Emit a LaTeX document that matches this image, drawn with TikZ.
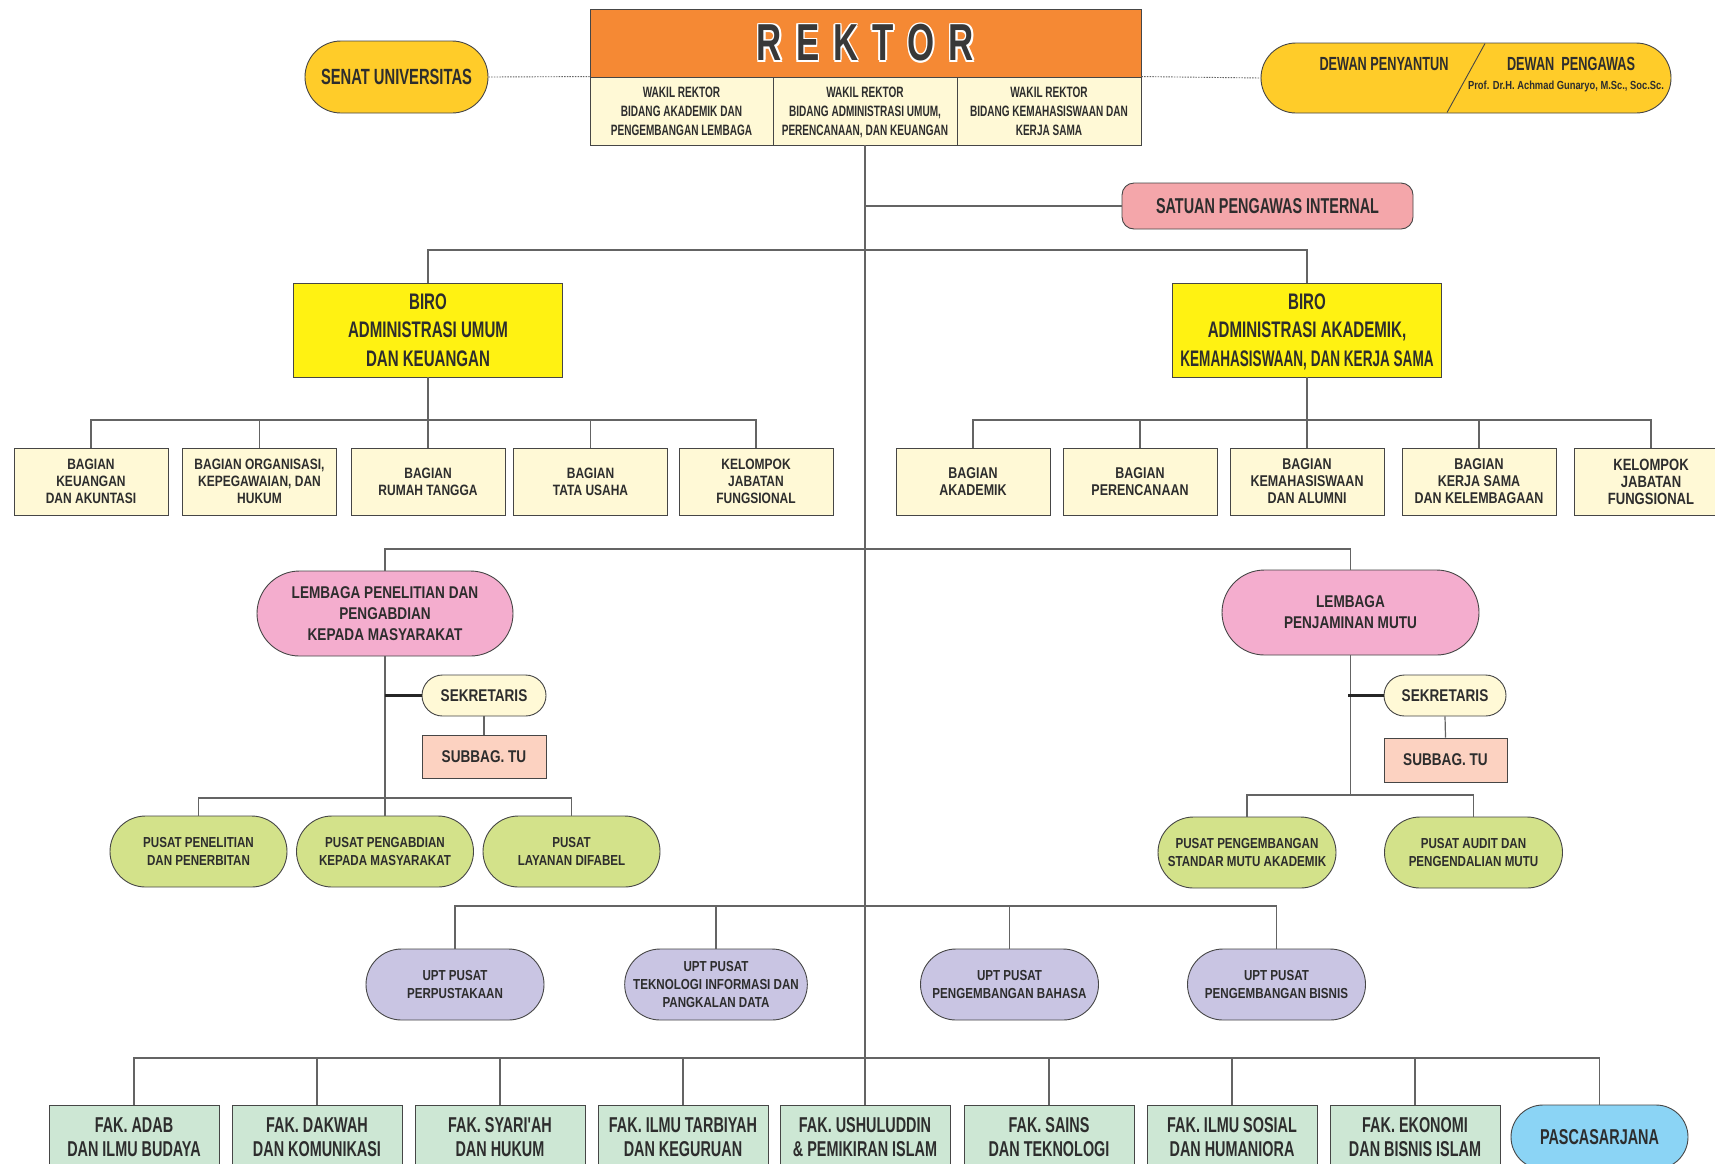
\documentclass[tikz,border=0pt]{standalone}
\usepackage{fontspec}
\usepackage{graphicx}
\usetikzlibrary{shapes.misc,calc}
\newfontfamily\fA{Liberation Sans}[FakeStretch=0.67]
\newfontfamily\fB{Liberation Sans}[FakeStretch=0.8]
\newcommand\fsz[2]{\fontsize{#1}{#2}\selectfont}
\newcommand\rkword{R\kern14pt E\kern14pt K\kern14pt T\kern14pt O\kern14pt R}
\definecolor{orng}{RGB}{245,137,52}
\definecolor{cream}{RGB}{255,249,214}
\definecolor{senatc}{RGB}{255,204,41}
\definecolor{spic}{RGB}{244,166,170}
\definecolor{biroc}{RGB}{255,242,18}
\definecolor{lemc}{RGB}{244,173,206}
\definecolor{subc}{RGB}{252,210,193}
\definecolor{pusc}{RGB}{211,226,138}
\definecolor{uptc}{RGB}{201,197,227}
\definecolor{fakc}{RGB}{205,231,212}
\definecolor{pasc}{RGB}{139,212,245}
\definecolor{tx}{RGB}{45,45,45}
\definecolor{bd}{RGB}{70,70,70}
\definecolor{ln}{RGB}{100,100,100}
\begin{document}
\begin{tikzpicture}[x=1pt,y=-1pt,
  box/.style={draw=bd, line width=0.9pt, align=center, text=tx, inner sep=0pt, rectangle, text depth=0pt},
  pill/.style={box, rounded rectangle},
  conn/.style={draw=ln, line width=1.2pt},
  sekline/.style={draw=black!85, line width=2.2pt},
  dotline/.style={draw=ln, line width=0.9pt, dash pattern=on 1.5pt off 1.2pt},
  rk/.style={font=\fA\bfseries\fsz{52}{60}, inner sep=0pt},
  wk/.style={font=\fA\bfseries\fsz{15}{19}},
  big/.style={font=\fA\bfseries\fsz{22.5}{28.4}},
  bgl/.style={font=\fB\bfseries\fsz{15}{17}},
  bgr/.style={font=\fB\bfseries\fsz{15.6}{17}},
  lem/.style={font=\fB\bfseries\fsz{17}{21}},
  sek/.style={font=\fB\bfseries\fsz{17}{20}},
  pus/.style={font=\fB\bfseries\fsz{14.5}{18}},
  fak/.style={font=\fA\bfseries\fsz{21.5}{24}},
  bagbox/.style={box, bgl, fill=cream, minimum width=154pt, minimum height=67pt},
  pusbox/.style={pill, pus, fill=pusc, minimum width=177pt, minimum height=71pt},
  uptbox/.style={pill, pus, fill=uptc, minimum width=178pt, minimum height=71pt},
  fakbox/.style={box, fak, fill=fakc, minimum width=170pt, minimum height=64pt},
]
\useasboundingbox (0,0) rectangle (1715,1163);
\clip (0,0) rectangle (1715,1163);
\fill[white] (0,0) rectangle (1715,1163);

% ---------- top ----------
\node[box, fill=orng, minimum width=551pt, minimum height=68pt] (rektor) at (865.5,43) {};
\foreach \dx/\dy [count=\i] in {1.6/0,-1.6/0,0/1.6,0/-1.6,1.15/1.15,-1.15/1.15,1.15/-1.15,-1.15/-1.15}
  \node[rk, text=white] (rkhalo\i) at ($(rektor.center)+(\dx,\dy)$) {\rkword};
\node[rk, text=tx!95] (rktext) at (rektor.center) {\rkword};

\node[box, wk, fill=cream, minimum width=183pt, minimum height=68pt] (w1) at (681.5,111)
  {WAKIL REKTOR\\BIDANG AKADEMIK DAN\\PENGEMBANGAN LEMBAGA};
\node[box, wk, fill=cream, minimum width=184pt, minimum height=68pt] (w2) at (865,111)
  {WAKIL REKTOR\\BIDANG ADMINISTRASI UMUM,\\PERENCANAAN, DAN KEUANGAN};
\node[box, wk, fill=cream, minimum width=184pt, minimum height=68pt] (w3) at (1049,111)
  {WAKIL REKTOR\\BIDANG KEMAHASISWAAN DAN\\KERJA SAMA};

\node[pill, fill=senatc, font=\fA\bfseries\fsz{22}{26}, minimum width=183pt, minimum height=72pt] (senat) at (396.5,77) {SENAT UNIVERSITAS};
\node[pill, fill=senatc, minimum width=410pt, minimum height=70pt] (dewan) at (1466,78) {};
\draw[draw=bd, line width=0.9pt] (1485,43.5) -- (1447,112.5);
\node[font=\fA\bfseries\fsz{19}{22}, text=tx] (dpy) at (1384,64) {DEWAN PENYANTUN};
\node[font=\fA\bfseries\fsz{19}{22}, text=tx] (dpg) at (1571,64) {DEWAN\ \ PENGAWAS};
\node[font=\fB\bfseries\fsz{11.7}{14}, text=tx] (prof) at (1566,86) {Prof. Dr.H. Achmad Gunaryo, M.Sc., Soc.Sc.};

\draw[dotline] (senat.east) -- (w1.north west);
\draw[dotline] (w3.north east) -- (dewan.west);

\node[box, fill=spic, rounded corners=12pt, font=\fA\bfseries\fsz{21.5}{24}, minimum width=291pt, minimum height=46pt] (spi) at (1267.5,206) {SATUAN PENGAWAS INTERNAL};

% ---------- biro ----------
\node[box, big, fill=biroc, minimum width=269pt, minimum height=94pt] (b1) at (428,330)
  {BIRO\\ADMINISTRASI UMUM\\DAN KEUANGAN};
\node[box, big, fill=biroc, minimum width=269pt, minimum height=94pt] (b2) at (1307,330)
  {BIRO\\ADMINISTRASI AKADEMIK,\\\scalebox{0.9}[1]{KEMAHASISWAAN, DAN KERJA SAMA}};

\node[bagbox] (l1) at (91,481.5) {BAGIAN\\KEUANGAN\\DAN AKUNTASI};
\node[bagbox] (l2) at (259.5,481.5) {BAGIAN ORGANISASI,\\KEPEGAWAIAN, DAN\\HUKUM};
\node[bagbox] (l3) at (428,481.5) {BAGIAN\\RUMAH TANGGA};
\node[bagbox] (l4) at (590.5,481.5) {BAGIAN\\TATA USAHA};
\node[bagbox] (l5) at (756,481.5) {KELOMPOK\\JABATAN\\FUNGSIONAL};

\node[bagbox, bgr] (r1) at (973,481.5) {BAGIAN\\AKADEMIK};
\node[bagbox, bgr] (r2) at (1140,481.5) {BAGIAN\\PERENCANAAN};
\node[bagbox, bgr] (r3) at (1307,481.5) {BAGIAN\\KEMAHASISWAAN\\DAN ALUMNI};
\node[bagbox, bgr] (r4) at (1479,481.5) {BAGIAN\\KERJA SAMA\\DAN KELEMBAGAAN};
\node[bagbox, font=\fB\bfseries\fsz{16.3}{17}] (r5) at (1651,481.5) {KELOMPOK\\JABATAN\\FUNGSIONAL};

% ---------- lembaga ----------
\node[pill, lem, fill=lemc, minimum width=256pt, minimum height=85pt] (lp) at (385,613.5)
  {LEMBAGA PENELITIAN DAN\\PENGABDIAN\\KEPADA MASYARAKAT};
\node[pill, lem, fill=lemc, minimum width=257pt, minimum height=85pt] (lm) at (1350.5,612.5)
  {LEMBAGA\\PENJAMINAN MUTU};

\node[pill, sek, fill=cream, minimum width=124pt, minimum height=41pt] (sk1) at (484,695.5) {SEKRETARIS};
\node[box, sek, fill=subc, minimum width=124pt, minimum height=43pt] (sb1) at (484,756.5) {SUBBAG. TU};
\node[pill, sek, fill=cream, minimum width=122pt, minimum height=41pt] (sk2) at (1445,695.5) {SEKRETARIS};
\node[box, sek, fill=subc, minimum width=123pt, minimum height=44pt] (sb2) at (1445.5,760) {SUBBAG. TU};

\node[pusbox] (p1) at (198.5,851.5) {PUSAT PENELITIAN\\DAN PENERBITAN};
\node[pusbox] (p2) at (385,851.5) {PUSAT PENGABDIAN\\KEPADA MASYARAKAT};
\node[pusbox] (p3) at (571.5,851.5) {PUSAT\\LAYANAN DIFABEL};
\node[pusbox, minimum width=178pt] (q1) at (1247,852.5) {PUSAT PENGEMBANGAN\\STANDAR MUTU AKADEMIK};
\node[pusbox, minimum width=178pt] (q2) at (1473.5,852.5) {PUSAT AUDIT DAN\\PENGENDALIAN MUTU};

% ---------- UPT ----------
\node[uptbox] (u1) at (455,984.5) {UPT PUSAT\\PERPUSTAKAAN};
\node[uptbox] (u2) at (716,984.5) {UPT PUSAT\\TEKNOLOGI INFORMASI DAN\\PANGKALAN DATA};
\node[uptbox] (u3) at (1009.5,984.5) {UPT PUSAT\\PENGEMBANGAN BAHASA};
\node[uptbox] (u4) at (1276.5,984.5) {UPT PUSAT\\PENGEMBANGAN BISNIS};

% ---------- fakultas ----------
\node[fakbox] (f1) at (134,1137) {FAK. ADAB\\DAN ILMU BUDAYA};
\node[fakbox] (f2) at (317,1137) {FAK. DAKWAH\\DAN KOMUNIKASI};
\node[fakbox] (f3) at (500,1137) {FAK. SYARI'AH\\DAN HUKUM};
\node[fakbox] (f4) at (683,1137) {FAK. ILMU TARBIYAH\\DAN KEGURUAN};
\node[fakbox] (f5) at (865,1137) {FAK. USHULUDDIN\\\& PEMIKIRAN ISLAM};
\node[fakbox] (f6) at (1049,1137) {FAK. SAINS\\DAN TEKNOLOGI};
\node[fakbox] (f7) at (1232,1137) {FAK. ILMU SOSIAL\\DAN HUMANIORA};
\node[fakbox] (f8) at (1415,1137) {FAK. EKONOMI\\DAN BISNIS ISLAM};
\node[pill, fak, fill=pasc, minimum width=177pt, minimum height=64pt] (f9) at (1599.5,1137) {PASCASARJANA};

% ---------- connectors ----------
\coordinate (birobar) at (865,250);
\coordinate (lbar) at (428,420);
\coordinate (rbar) at (1307,420);
\coordinate (lembar) at (865,549);
\coordinate (lpbar) at (385,798);
\coordinate (lmbar) at (1350.5,795);
\coordinate (ubar) at (865,906);
\coordinate (fbar) at (865,1058);

\draw[conn] (w2.south) -- (f5.north);
\draw[conn] (spi.west) -- (spi.west -| w2.south);
\draw[conn] (b1.north) |- (birobar) -| (b2.north);

\draw[conn] (b1.south) -- (lbar);
\draw[conn] (l1.north) |- (lbar) -| (l5.north);
\foreach \n in {l2,l3,l4} \draw[conn] (\n.north) -- (\n.north |- lbar);
\draw[conn] (b2.south) -- (rbar);
\draw[conn] (r1.north) |- (rbar) -| (r5.north);
\foreach \n in {r2,r3,r4} \draw[conn] (\n.north) -- (\n.north |- rbar);

\draw[conn] (lp.north) |- (lembar) -| (lm.north);
\draw[conn] (lp.south) -- (lpbar);
\draw[conn] (lm.south) -- (lmbar);
\draw[sekline] (sk1.west) -- (sk1.west -| lp.south);
\draw[sekline] (sk2.west) -- ($(sk2.west -| lm.south)+(-3,0)$);
\draw[conn] (sk1.south) -- (sb1.north);
\draw[conn] (sk2.south) -- (sb2.north);
\draw[conn] (p1.north) |- (lpbar) -| (p3.north);
\draw[conn] (p2.north) -- (lpbar);
\draw[conn] (q1.north) |- (lmbar) -| (q2.north);

\draw[conn] (u1.north) |- (ubar) -| (u4.north);
\foreach \n in {u2,u3} \draw[conn] (\n.north) -- (\n.north |- ubar);

\draw[conn] (f1.north) |- (fbar) -| (f9.north);
\foreach \n in {f2,f3,f4,f6,f7,f8} \draw[conn] (\n.north) -- (\n.north |- fbar);
\end{tikzpicture}
\end{document}
